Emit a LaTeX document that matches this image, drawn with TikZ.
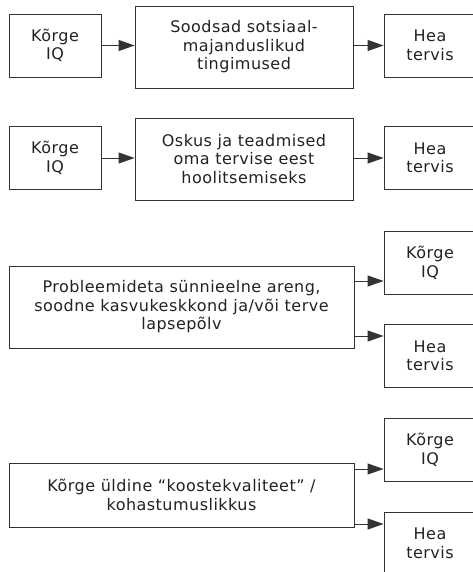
\documentclass[tikz,border=0pt]{standalone}
\usepackage{fontspec}
\setmainfont[LetterSpace=3]{DejaVu Sans}
\usetikzlibrary{arrows.meta}

\definecolor{linegray}{HTML}{333333}
\definecolor{textgray}{HTML}{222222}

\tikzset{
  box/.style={draw=linegray, line width=0.9pt, align=center, inner sep=0pt,
    text=textgray, font=\fontsize{16}{18.5}\selectfont},
  smallbox/.style={box, minimum width=92pt, minimum height=63pt},
  midbox/.style={box, minimum width=218pt, minimum height=82pt},
  arr/.style={draw=linegray, line width=0.9pt,
    -{Triangle[length=16pt,width=11pt]}}
}

\begin{document}
\begin{tikzpicture}[x=1pt,y=-1pt]
    \useasboundingbox (0,0) rectangle (473,572);

    % Row 1
    \node[smallbox] (iqa) at (55,45.5) {Kõrge\\IQ};
    \node[midbox] (soc) at (244,47) {Soodsad sotsiaal-\\majanduslikud\\tingimused};
    \node[smallbox] (heaa) at (430,45.5) {Hea\\tervis};
    \draw[arr] (iqa.east) -- (iqa.east -| soc.west);
    \draw[arr] (heaa.west -| soc.east) -- (heaa.west);

    % Row 2
    \node[smallbox] (iqb) at (55,158) {Kõrge\\IQ};
    \node[midbox] (skill) at (244,159) {Oskus ja teadmised\\oma tervise eest\\hoolitsemiseks};
    \node[smallbox] (heab) at (430,158) {Hea\\tervis};
    \draw[arr] (iqb.east) -- (iqb.east -| skill.west);
    \draw[arr] (heab.west -| skill.east) -- (heab.west);

    % Row 3
    \node[box, minimum width=345pt, minimum height=82pt] (dev) at (181.5,307)
        {Probleemideta sünnieelne areng,\\soodne kasvukeskkond ja/või terve\\lapsepõlv};
    \node[smallbox] (iqc) at (430,263) {Kõrge\\IQ};
    \node[smallbox] (heac) at (430,356) {Hea\\tervis};
    \draw[arr] ([yshift=26pt]dev.east) -- ([yshift=26pt]dev.east -| iqc.west);
    \draw[arr] ([yshift=-29pt]dev.east) -- ([yshift=-29pt]dev.east -| heac.west);

    % Row 4
    \node[box, minimum width=345pt, minimum height=64pt] (fit) at (181.5,495)
        {Kõrge üldine “koostekvaliteet” /\\kohastumuslikkus};
    \node[smallbox] (iqd) at (430,450) {Kõrge\\IQ};
    \node[smallbox] (thead) at (430,543.5) {Hea\\tervis};
    \draw[arr] ([yshift=26pt]fit.east) -- ([yshift=26pt]fit.east -| iqd.west);
    \draw[arr] ([yshift=-29pt]fit.east) -- ([yshift=-29pt]fit.east -| thead.west);
  \end{tikzpicture}
\end{document}
